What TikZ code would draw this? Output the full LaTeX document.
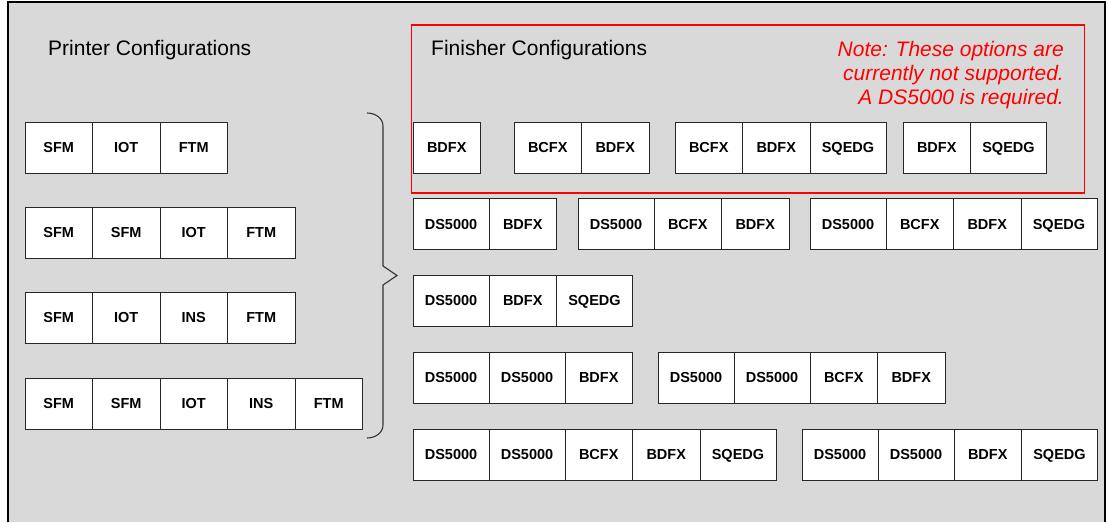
\documentclass[tikz,border=0pt]{standalone}
\usepackage{fontspec}
\setmainfont{Liberation Sans}
\definecolor{panelgray}{HTML}{D9D9D9}
\definecolor{notered}{HTML}{FF0000}
\definecolor{bracecol}{HTML}{333333}
\begin{document}
\begin{tikzpicture}[x=1pt,y=-1pt,
  cell/.style={draw=black!85, fill=white, line width=0.9pt, inner sep=0pt, outer sep=0pt,
    anchor=north west, minimum height=51pt, minimum width=67.5pt,
    text height=10.4pt, text depth=0pt,
    font=\bfseries\fontsize{14.5}{17}\selectfont},
  wide/.style={cell, minimum width=76pt},
  title/.style={anchor=base west, inner sep=0pt, font=\fontsize{21}{24}\selectfont},
  note/.style={anchor=base east, inner sep=0pt, text=notered, font=\itshape\fontsize{21}{24}\selectfont}]
\useasboundingbox (0,0) rectangle (1108,522);
% panel
\fill[panelgray] (8,2) rectangle (1105,522);
\draw[black, line width=1.5pt] (8,522) -- (8,2) -- (1105,2) -- (1105,522);
% titles
\node[title] (ptitle) at (48,55) {Printer Configurations};
\node[title] (ftitle) at (431,55) {Finisher Configurations};
\node[note] (note1) at (1064,56) {Note: These options are};
\node[note] (note2) at (1064,80) {currently not supported.};
\node[note] (note3) at (1064,104) {A DS5000 is required.};
% red frame
\node[draw=notered, line width=1.5pt, inner sep=0pt, outer sep=0pt, anchor=north west,
  minimum width=673pt, minimum height=168pt] (redbox) at (411.5,25) {};
% printer rows
\node[cell] (p1a) at (25,122) {SFM};
\node[cell] (p1b) at (92.5,122) {IOT};
\node[cell] (p1c) at (160,122) {FTM};
\node[cell] (p2a) at (25,207) {SFM};
\node[cell] (p2b) at (92.5,207) {SFM};
\node[cell] (p2c) at (160,207) {IOT};
\node[cell] (p2d) at (227.5,207) {FTM};
\node[cell] (p3a) at (25,292) {SFM};
\node[cell] (p3b) at (92.5,292) {IOT};
\node[cell] (p3c) at (160,292) {INS};
\node[cell] (p3d) at (227.5,292) {FTM};
\node[cell] (p4a) at (25,378) {SFM};
\node[cell] (p4b) at (92.5,378) {SFM};
\node[cell] (p4c) at (160,378) {IOT};
\node[cell] (p4d) at (227.5,378) {INS};
\node[cell] (p4e) at (295,378) {FTM};
% brace
\draw[bracecol, line width=1.1pt] (367,113) to[out=0,in=90] (383,126) -- (383,266)
  -- (397,275.5) -- (383,285) -- (383,425) to[out=-90,in=0] (367,438);
% finisher row 1
\node[cell] (f1a) at (413,122) {BDFX};
\node[cell] (f1b) at (514,122) {BCFX};
\node[cell] (f1c) at (581.5,122) {BDFX};
\node[cell] (f1d) at (675,122) {BCFX};
\node[cell] (f1e) at (742.5,122) {BDFX};
\node[wide] (f1f) at (810,122) {SQEDG};
\node[cell] (f1g) at (903,122) {BDFX};
\node[wide] (f1h) at (970.5,122) {SQEDG};
% row 2
\node[wide] (f2a) at (413,198.5) {DS5000};
\node[cell] (f2b) at (489,198.5) {BDFX};
\node[wide] (f2c) at (578,198.5) {DS5000};
\node[cell] (f2d) at (654,198.5) {BCFX};
\node[cell] (f2e) at (721.5,198.5) {BDFX};
\node[wide] (f2f) at (810,198.5) {DS5000};
\node[cell] (f2g) at (886,198.5) {BCFX};
\node[cell] (f2h) at (953.5,198.5) {BDFX};
\node[wide] (f2i) at (1021,198.5) {SQEDG};
% row 3
\node[wide] (f3a) at (413,275) {DS5000};
\node[cell] (f3b) at (489,275) {BDFX};
\node[wide] (f3c) at (556.5,275) {SQEDG};
% row 4
\node[wide] (f4a) at (413,352) {DS5000};
\node[wide] (f4b) at (489,352) {DS5000};
\node[cell] (f4c) at (565,352) {BDFX};
\node[wide] (f4d) at (658,352) {DS5000};
\node[wide] (f4e) at (734,352) {DS5000};
\node[cell] (f4f) at (810,352) {BCFX};
\node[cell] (f4g) at (877.5,352) {BDFX};
% row 5
\node[wide] (f5a) at (413,429) {DS5000};
\node[wide] (f5b) at (489,429) {DS5000};
\node[cell] (f5c) at (565,429) {BCFX};
\node[cell] (f5d) at (632.5,429) {BDFX};
\node[wide] (f5e) at (700,429) {SQEDG};
\node[wide] (f5f) at (802,429) {DS5000};
\node[wide] (f5g) at (878,429) {DS5000};
\node[cell] (f5h) at (954,429) {BDFX};
\node[wide] (f5i) at (1021.5,429) {SQEDG};
\end{tikzpicture}
\end{document}
